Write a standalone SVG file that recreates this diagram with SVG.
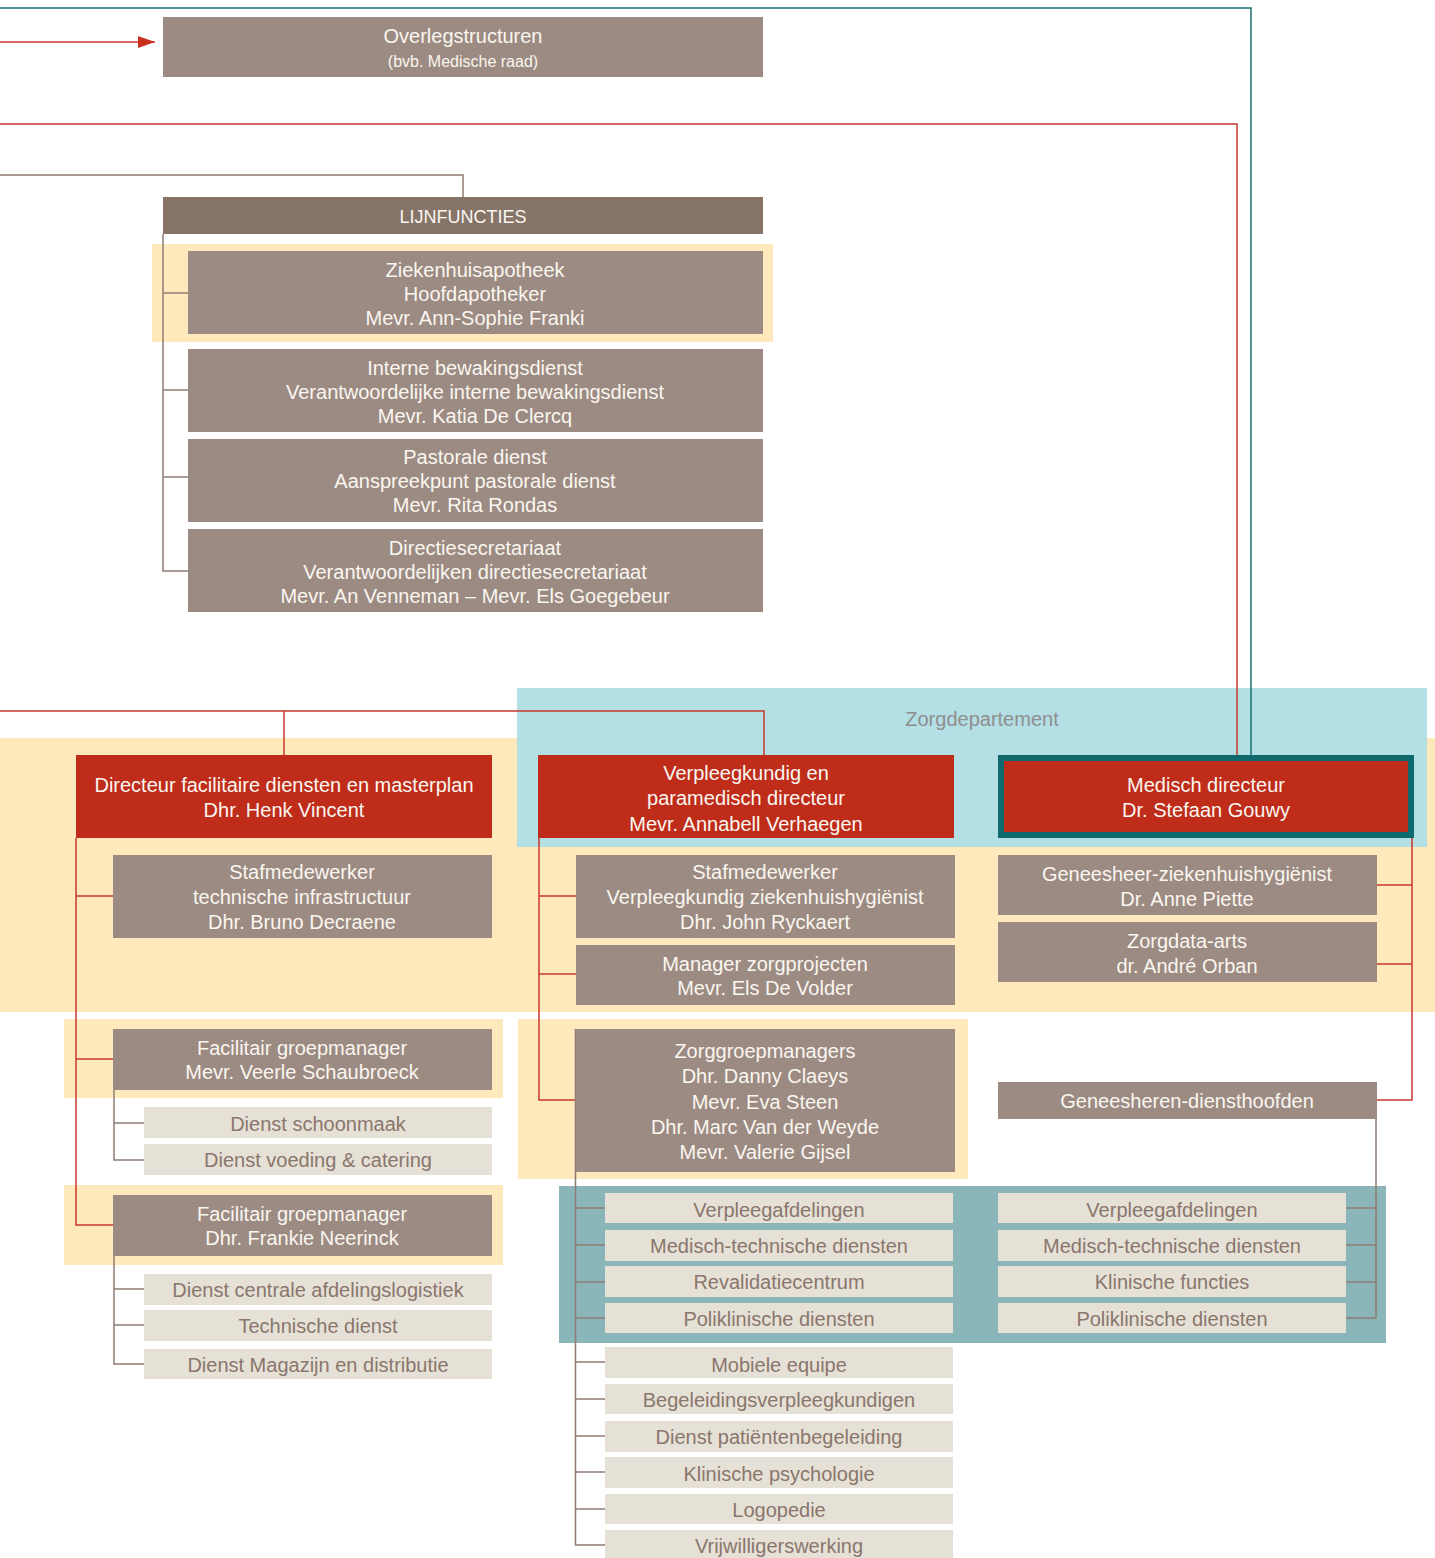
<svg xmlns="http://www.w3.org/2000/svg" width="1435" height="1558" viewBox="0 0 1435 1558">
<defs>
<style>
text{font-family:"Liberation Sans",Arial,sans-serif;font-size:20px;text-anchor:middle}
.box{fill:#9c8b82}
.dark{fill:#867469}
.red{fill:#bf2c1a}
.light{fill:#e6e1d6}
.yel{fill:#fde9bb}
.w{fill:#faf6f0}
.lt{fill:#8a766d}
.cr{fill:none;stroke:#c8372d;stroke-width:1.5}
.cg{fill:none;stroke:#8f7c73;stroke-width:1.5}
.ct{fill:none;stroke:#17706f;stroke-width:1.5}
</style>
<marker id="arr" viewBox="0 0 17 12" refX="17" refY="6" markerWidth="17" markerHeight="12" markerUnits="userSpaceOnUse" orient="auto">
<path d="M0,0 L17,6 L0,12 Z" fill="#c8301e"/>
</marker>
</defs>
<rect width="1435" height="1558" fill="#ffffff"/>

<g id="backgrounds">
<rect class="yel" x="0" y="738" width="1435" height="274"/>
<rect x="517" y="688" width="910" height="159" fill="#b3dfe5"/>
<text x="982" y="726" fill="#8f8f8f">Zorgdepartement</text>
<rect class="yel" x="152" y="244" width="621" height="98"/>
<rect class="yel" x="64" y="1019" width="439" height="79"/>
<rect class="yel" x="64" y="1185" width="439" height="80"/>
<rect class="yel" x="518" y="1019" width="450" height="160"/>
<rect x="559" y="1186" width="827" height="157" fill="#8ab5b9"/>
</g>

<g id="connectors">
<polyline class="ct" points="0,8 1251,8 1251,756"/>
<line class="cr" x1="0" y1="42" x2="155" y2="42" marker-end="url(#arr)"/>
<polyline class="cr" points="0,124 1237,124 1237,756"/>
<polyline class="cg" points="0,175 463,175 463,197"/>
<polyline class="cg" points="163,234 163,571 188,571"/>
<line class="cg" x1="163" y1="293" x2="188" y2="293"/>
<line class="cg" x1="163" y1="390" x2="188" y2="390"/>
<line class="cg" x1="163" y1="477" x2="188" y2="477"/>
<polyline class="cr" points="0,711 764,711 764,755"/>
<line class="cr" x1="284" y1="711" x2="284" y2="755"/>
<polyline class="cr" points="76,838 76,1225 113,1225"/>
<line class="cr" x1="76" y1="896" x2="113" y2="896"/>
<line class="cr" x1="76" y1="1059" x2="113" y2="1059"/>
<polyline class="cg" points="114,1090 114,1160 144,1160"/>
<line class="cg" x1="114" y1="1123" x2="144" y2="1123"/>
<polyline class="cg" points="114,1256 114,1364 144,1364"/>
<line class="cg" x1="114" y1="1289" x2="144" y2="1289"/>
<line class="cg" x1="114" y1="1325" x2="144" y2="1325"/>
<polyline class="cr" points="539,838 539,1100 576,1100"/>
<line class="cr" x1="539" y1="896" x2="576" y2="896"/>
<line class="cr" x1="539" y1="974" x2="576" y2="974"/>
<polyline class="cg" points="575.5,1029 575.5,1545 605,1545"/>
<line class="cg" x1="575.5" y1="1208" x2="605" y2="1208"/>
<line class="cg" x1="575.5" y1="1245" x2="605" y2="1245"/>
<line class="cg" x1="575.5" y1="1282" x2="605" y2="1282"/>
<line class="cg" x1="575.5" y1="1318" x2="605" y2="1318"/>
<line class="cg" x1="575.5" y1="1362" x2="605" y2="1362"/>
<line class="cg" x1="575.5" y1="1399" x2="605" y2="1399"/>
<line class="cg" x1="575.5" y1="1436" x2="605" y2="1436"/>
<line class="cg" x1="575.5" y1="1472" x2="605" y2="1472"/>
<line class="cg" x1="575.5" y1="1509" x2="605" y2="1509"/>
<polyline class="cr" points="1412,838 1412,1100 1377,1100"/>
<line class="cr" x1="1377" y1="885" x2="1412" y2="885"/>
<line class="cr" x1="1377" y1="964" x2="1412" y2="964"/>
<polyline class="cg" points="1376,1119 1376,1318 1346,1318"/>
<line class="cg" x1="1346" y1="1208" x2="1376" y2="1208"/>
<line class="cg" x1="1346" y1="1245" x2="1376" y2="1245"/>
<line class="cg" x1="1346" y1="1282" x2="1376" y2="1282"/>
</g>

<g id="overleg"><rect class="box" x="163" y="17" width="600" height="60"/>
<text class="w" x="463" y="43">Overlegstructuren</text>
<text class="w" x="463" y="67" style="font-size:16px">(bvb. Medische raad)</text></g>

<g id="lijnfuncties"><rect class="dark" x="163" y="197" width="600" height="37"/>
<text class="w" x="463" y="223" style="font-size:18px">LIJNFUNCTIES</text></g>

<g id="apotheek"><rect class="box" x="188" y="251" width="575" height="83"/>
<text class="w" x="475" y="277">Ziekenhuisapotheek</text>
<text class="w" x="475" y="301">Hoofdapotheker</text>
<text class="w" x="475" y="325">Mevr. Ann-Sophie Franki</text></g>

<g id="bewaking"><rect class="box" x="188" y="349" width="575" height="83"/>
<text class="w" x="475" y="375">Interne bewakingsdienst</text>
<text class="w" x="475" y="399">Verantwoordelijke interne bewakingsdienst</text>
<text class="w" x="475" y="423">Mevr. Katia De Clercq</text></g>

<g id="pastoraal"><rect class="box" x="188" y="439" width="575" height="83"/>
<text class="w" x="475" y="464">Pastorale dienst</text>
<text class="w" x="475" y="488">Aanspreekpunt pastorale dienst</text>
<text class="w" x="475" y="512">Mevr. Rita Rondas</text></g>

<g id="secretariaat"><rect class="box" x="188" y="529" width="575" height="83"/>
<text class="w" x="475" y="555">Directiesecretariaat</text>
<text class="w" x="475" y="579">Verantwoordelijken directiesecretariaat</text>
<text class="w" x="475" y="603">Mevr. An Venneman – Mevr. Els Goegebeur</text></g>

<g id="dir-facilitair"><rect class="red" x="76" y="755" width="416" height="83"/>
<text class="w" x="284" y="792">Directeur facilitaire diensten en masterplan</text>
<text class="w" x="284" y="817">Dhr. Henk Vincent</text></g>

<g id="dir-verpleeg"><rect class="red" x="538" y="755" width="416" height="83"/>
<text class="w" x="746" y="780">Verpleegkundig en</text>
<text class="w" x="746" y="805">paramedisch directeur</text>
<text class="w" x="746" y="831">Mevr. Annabell Verhaegen</text></g>

<g id="dir-medisch"><rect class="red" x="1001" y="758" width="410" height="77" stroke="#0e6a6c" stroke-width="6"/>
<text class="w" x="1206" y="792">Medisch directeur</text>
<text class="w" x="1206" y="817">Dr. Stefaan Gouwy</text></g>

<g id="staf-techn"><rect class="box" x="113" y="855" width="379" height="83"/>
<text class="w" x="302" y="879">Stafmedewerker</text>
<text class="w" x="302" y="904">technische infrastructuur</text>
<text class="w" x="302" y="929">Dhr. Bruno Decraene</text></g>

<g id="staf-verpleeg"><rect class="box" x="576" y="855" width="379" height="83"/>
<text class="w" x="765" y="879">Stafmedewerker</text>
<text class="w" x="765" y="904">Verpleegkundig ziekenhuishygiënist</text>
<text class="w" x="765" y="929">Dhr. John Ryckaert</text></g>

<g id="manager-zorg"><rect class="box" x="576" y="945" width="379" height="60"/>
<text class="w" x="765" y="971">Manager zorgprojecten</text>
<text class="w" x="765" y="995">Mevr. Els De Volder</text></g>

<g id="geneesheer-hyg"><rect class="box" x="998" y="855" width="379" height="60"/>
<text class="w" x="1187" y="881">Geneesheer-ziekenhuishygiënist</text>
<text class="w" x="1187" y="906">Dr. Anne Piette</text></g>

<g id="zorgdata"><rect class="box" x="998" y="922" width="379" height="60"/>
<text class="w" x="1187" y="948">Zorgdata-arts</text>
<text class="w" x="1187" y="973">dr. André Orban</text></g>

<g id="diensthoofden"><rect class="box" x="998" y="1082" width="379" height="37"/>
<text class="w" x="1187" y="1108">Geneesheren-diensthoofden</text></g>

<g id="fac-gm1"><rect class="box" x="113" y="1029" width="379" height="61"/>
<text class="w" x="302" y="1055">Facilitair groepmanager</text>
<text class="w" x="302" y="1079">Mevr. Veerle Schaubroeck</text></g>

<g id="schoonmaak"><rect class="light" x="144" y="1107" width="348" height="31"/>
<text class="lt" x="318" y="1131">Dienst schoonmaak</text></g>
<g id="voeding"><rect class="light" x="144" y="1144" width="348" height="31"/>
<text class="lt" x="318" y="1167">Dienst voeding &amp; catering</text></g>

<g id="fac-gm2"><rect class="box" x="113" y="1195" width="379" height="61"/>
<text class="w" x="302" y="1221">Facilitair groepmanager</text>
<text class="w" x="302" y="1245">Dhr. Frankie Neerinck</text></g>

<g id="logistiek"><rect class="light" x="144" y="1274" width="348" height="31"/>
<text class="lt" x="318" y="1297">Dienst centrale afdelingslogistiek</text></g>
<g id="technisch"><rect class="light" x="144" y="1310" width="348" height="31"/>
<text class="lt" x="318" y="1333">Technische dienst</text></g>
<g id="magazijn"><rect class="light" x="144" y="1349" width="348" height="30"/>
<text class="lt" x="318" y="1372">Dienst Magazijn en distributie</text></g>

<g id="zorggroep"><rect class="box" x="576" y="1029" width="379" height="143"/>
<text class="w" x="765" y="1058">Zorggroepmanagers</text>
<text class="w" x="765" y="1083">Dhr. Danny Claeys</text>
<text class="w" x="765" y="1109">Mevr. Eva Steen</text>
<text class="w" x="765" y="1134">Dhr. Marc Van der Weyde</text>
<text class="w" x="765" y="1159">Mevr. Valerie Gijsel</text></g>

<g id="l-verpleeg"><rect class="light" x="605" y="1193" width="348" height="30"/>
<text class="lt" x="779" y="1217">Verpleegafdelingen</text></g>
<g id="l-medtech"><rect class="light" x="605" y="1230" width="348" height="31"/>
<text class="lt" x="779" y="1253">Medisch-technische diensten</text></g>
<g id="l-reval"><rect class="light" x="605" y="1266" width="348" height="31"/>
<text class="lt" x="779" y="1289">Revalidatiecentrum</text></g>
<g id="l-poli"><rect class="light" x="605" y="1303" width="348" height="30"/>
<text class="lt" x="779" y="1326">Poliklinische diensten</text></g>

<g id="r-verpleeg"><rect class="light" x="998" y="1193" width="348" height="30"/>
<text class="lt" x="1172" y="1217">Verpleegafdelingen</text></g>
<g id="r-medtech"><rect class="light" x="998" y="1230" width="348" height="31"/>
<text class="lt" x="1172" y="1253">Medisch-technische diensten</text></g>
<g id="r-klinisch"><rect class="light" x="998" y="1266" width="348" height="31"/>
<text class="lt" x="1172" y="1289">Klinische functies</text></g>
<g id="r-poli"><rect class="light" x="998" y="1303" width="348" height="30"/>
<text class="lt" x="1172" y="1326">Poliklinische diensten</text></g>

<g id="mobiel"><rect class="light" x="605" y="1347" width="348" height="31"/>
<text class="lt" x="779" y="1372">Mobiele equipe</text></g>
<g id="begeleiding"><rect class="light" x="605" y="1384" width="348" height="30"/>
<text class="lt" x="779" y="1407">Begeleidingsverpleegkundigen</text></g>
<g id="patienten"><rect class="light" x="605" y="1421" width="348" height="31"/>
<text class="lt" x="779" y="1444">Dienst patiëntenbegeleiding</text></g>
<g id="psychologie"><rect class="light" x="605" y="1457" width="348" height="31"/>
<text class="lt" x="779" y="1481">Klinische psychologie</text></g>
<g id="logopedie"><rect class="light" x="605" y="1494" width="348" height="30"/>
<text class="lt" x="779" y="1517">Logopedie</text></g>
<g id="vrijwilligers"><rect class="light" x="605" y="1530" width="348" height="28"/>
<text class="lt" x="779" y="1553">Vrijwilligerswerking</text></g>
</svg>
